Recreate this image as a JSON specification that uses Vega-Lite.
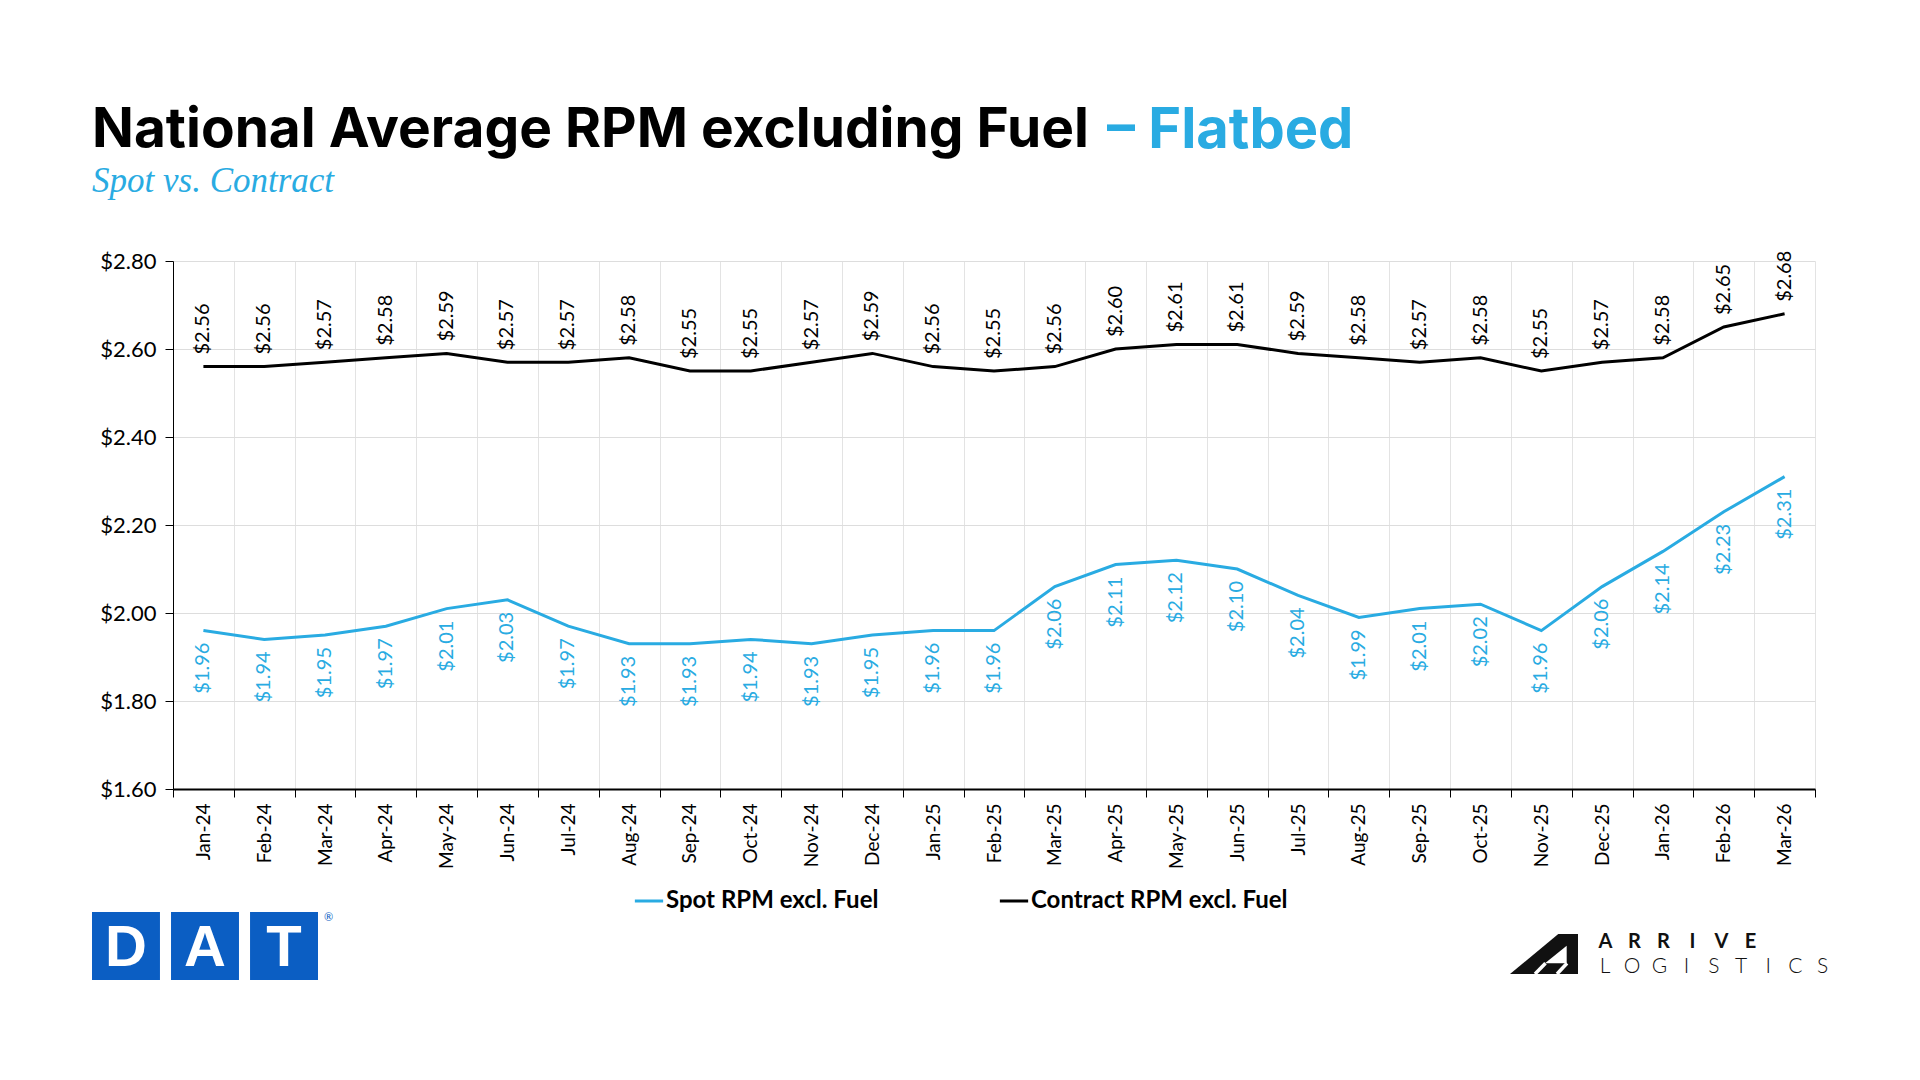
{
  "$schema": "https://vega.github.io/schema/vega-lite/v6.json",
  "background": "white",
  "padding": {"left": 92, "top": 90, "right": 40, "bottom": 20},
  "config": {
    "view": {"stroke": null},
    "font": "Lato",
    "axis": {"labelFont": "Lato", "labelColor": "#000"}
  },
  "datasets": {
    "rpm": [
      {"month": "Jan-24", "series": "Spot RPM excl. Fuel", "rpm": 1.96},
      {"month": "Feb-24", "series": "Spot RPM excl. Fuel", "rpm": 1.94},
      {"month": "Mar-24", "series": "Spot RPM excl. Fuel", "rpm": 1.95},
      {"month": "Apr-24", "series": "Spot RPM excl. Fuel", "rpm": 1.97},
      {"month": "May-24", "series": "Spot RPM excl. Fuel", "rpm": 2.01},
      {"month": "Jun-24", "series": "Spot RPM excl. Fuel", "rpm": 2.03},
      {"month": "Jul-24", "series": "Spot RPM excl. Fuel", "rpm": 1.97},
      {"month": "Aug-24", "series": "Spot RPM excl. Fuel", "rpm": 1.93},
      {"month": "Sep-24", "series": "Spot RPM excl. Fuel", "rpm": 1.93},
      {"month": "Oct-24", "series": "Spot RPM excl. Fuel", "rpm": 1.94},
      {"month": "Nov-24", "series": "Spot RPM excl. Fuel", "rpm": 1.93},
      {"month": "Dec-24", "series": "Spot RPM excl. Fuel", "rpm": 1.95},
      {"month": "Jan-25", "series": "Spot RPM excl. Fuel", "rpm": 1.96},
      {"month": "Feb-25", "series": "Spot RPM excl. Fuel", "rpm": 1.96},
      {"month": "Mar-25", "series": "Spot RPM excl. Fuel", "rpm": 2.06},
      {"month": "Apr-25", "series": "Spot RPM excl. Fuel", "rpm": 2.11},
      {"month": "May-25", "series": "Spot RPM excl. Fuel", "rpm": 2.12},
      {"month": "Jun-25", "series": "Spot RPM excl. Fuel", "rpm": 2.10},
      {"month": "Jul-25", "series": "Spot RPM excl. Fuel", "rpm": 2.04},
      {"month": "Aug-25", "series": "Spot RPM excl. Fuel", "rpm": 1.99},
      {"month": "Sep-25", "series": "Spot RPM excl. Fuel", "rpm": 2.01},
      {"month": "Oct-25", "series": "Spot RPM excl. Fuel", "rpm": 2.02},
      {"month": "Nov-25", "series": "Spot RPM excl. Fuel", "rpm": 1.96},
      {"month": "Dec-25", "series": "Spot RPM excl. Fuel", "rpm": 2.06},
      {"month": "Jan-26", "series": "Spot RPM excl. Fuel", "rpm": 2.14},
      {"month": "Feb-26", "series": "Spot RPM excl. Fuel", "rpm": 2.23},
      {"month": "Mar-26", "series": "Spot RPM excl. Fuel", "rpm": 2.31},
      {"month": "Jan-24", "series": "Contract RPM excl. Fuel", "rpm": 2.56},
      {"month": "Feb-24", "series": "Contract RPM excl. Fuel", "rpm": 2.56},
      {"month": "Mar-24", "series": "Contract RPM excl. Fuel", "rpm": 2.57},
      {"month": "Apr-24", "series": "Contract RPM excl. Fuel", "rpm": 2.58},
      {"month": "May-24", "series": "Contract RPM excl. Fuel", "rpm": 2.59},
      {"month": "Jun-24", "series": "Contract RPM excl. Fuel", "rpm": 2.57},
      {"month": "Jul-24", "series": "Contract RPM excl. Fuel", "rpm": 2.57},
      {"month": "Aug-24", "series": "Contract RPM excl. Fuel", "rpm": 2.58},
      {"month": "Sep-24", "series": "Contract RPM excl. Fuel", "rpm": 2.55},
      {"month": "Oct-24", "series": "Contract RPM excl. Fuel", "rpm": 2.55},
      {"month": "Nov-24", "series": "Contract RPM excl. Fuel", "rpm": 2.57},
      {"month": "Dec-24", "series": "Contract RPM excl. Fuel", "rpm": 2.59},
      {"month": "Jan-25", "series": "Contract RPM excl. Fuel", "rpm": 2.56},
      {"month": "Feb-25", "series": "Contract RPM excl. Fuel", "rpm": 2.55},
      {"month": "Mar-25", "series": "Contract RPM excl. Fuel", "rpm": 2.56},
      {"month": "Apr-25", "series": "Contract RPM excl. Fuel", "rpm": 2.60},
      {"month": "May-25", "series": "Contract RPM excl. Fuel", "rpm": 2.61},
      {"month": "Jun-25", "series": "Contract RPM excl. Fuel", "rpm": 2.61},
      {"month": "Jul-25", "series": "Contract RPM excl. Fuel", "rpm": 2.59},
      {"month": "Aug-25", "series": "Contract RPM excl. Fuel", "rpm": 2.58},
      {"month": "Sep-25", "series": "Contract RPM excl. Fuel", "rpm": 2.57},
      {"month": "Oct-25", "series": "Contract RPM excl. Fuel", "rpm": 2.58},
      {"month": "Nov-25", "series": "Contract RPM excl. Fuel", "rpm": 2.55},
      {"month": "Dec-25", "series": "Contract RPM excl. Fuel", "rpm": 2.57},
      {"month": "Jan-26", "series": "Contract RPM excl. Fuel", "rpm": 2.58},
      {"month": "Feb-26", "series": "Contract RPM excl. Fuel", "rpm": 2.65},
      {"month": "Mar-26", "series": "Contract RPM excl. Fuel", "rpm": 2.68}
    ],
    "datLogo": [{"letter": "D"}, {"letter": "A"}, {"letter": "T"}],
    "iconOuter": [{"u": 0, "v": 0}, {"u": 48.3, "v": 40}, {"u": 68, "v": 40}],
    "iconInner": [{"u": 35, "v": 10.7}, {"u": 56.7, "v": 28.3}],
    "iconGaps": [{"u": 25, "v": 0, "u2": 35.5, "v2": 10.7}, {"u": 47, "v": 0, "u2": 57, "v2": 10.7}],
    "arrive": [
      {"i": 0, "ch": "A", "row": "ARRIVE"}, {"i": 1, "ch": "R", "row": "ARRIVE"},
      {"i": 2, "ch": "R", "row": "ARRIVE"}, {"i": 3, "ch": "I", "row": "ARRIVE"},
      {"i": 4, "ch": "V", "row": "ARRIVE"}, {"i": 5, "ch": "E", "row": "ARRIVE"}
    ],
    "logistics": [
      {"i": 0, "ch": "L", "row": "LOGISTICS"}, {"i": 1, "ch": "O", "row": "LOGISTICS"},
      {"i": 2, "ch": "G", "row": "LOGISTICS"}, {"i": 3, "ch": "I", "row": "LOGISTICS"},
      {"i": 4, "ch": "S", "row": "LOGISTICS"}, {"i": 5, "ch": "T", "row": "LOGISTICS"},
      {"i": 6, "ch": "I", "row": "LOGISTICS"}, {"i": 7, "ch": "C", "row": "LOGISTICS"},
      {"i": 8, "ch": "S", "row": "LOGISTICS"}
    ]
  },
  "vconcat": [
    {
      "hconcat": [
        {
          "width": 1,
          "height": 1,
          "data": {"values": [{}]},
          "mark": {"type": "text", "text": ""},
          "title": {
            "text": "National Average RPM excluding Fuel",
            "subtitle": "Spot vs. Contract",
            "orient": "bottom",
            "anchor": "start",
            "frame": "group",
            "offset": 2,
            "font": "Inter",
            "fontSize": 55,
            "fontWeight": "bold",
            "color": "#000000",
            "subtitleFont": "Liberation Serif",
            "subtitleFontStyle": "italic",
            "subtitleFontSize": 35,
            "subtitleColor": "#29abe2",
            "subtitlePadding": 5
          }
        },
        {
          "width": 1,
          "height": 1,
          "data": {"values": [{}]},
          "mark": {"type": "text", "text": ""},
          "title": {
            "text": "– Flatbed",
            "orient": "bottom",
            "anchor": "start",
            "frame": "group",
            "offset": 2,
            "font": "Inter",
            "fontSize": 56,
            "fontWeight": "bold",
            "color": "#29abe2"
          }
        }
      ],
      "spacing": 18
    },
    {
      "vconcat": [
        {
          "hconcat": [
            {
              "width": 1,
              "height": 1,
              "data": {"values": [{}]},
              "mark": {"type": "text", "text": ""}
            },
            {
              "width": 1642,
              "height": 528,
              "data": {"name": "rpm"},
              "encoding": {
                "x": {
                  "field": "month",
                  "type": "ordinal",
                  "sort": null,
                  "bandPosition": 0.5,
                  "scale": {"type": "band", "paddingInner": 0, "paddingOuter": 0},
                  "axis": {
                    "title": null,
                    "labelAngle": -90,
                    "labelFontSize": 19,
                    "labelPadding": 6,
                    "tickBand": "extent",
                    "grid": true,
                    "gridColor": "#e3e3e3",
                    "domainColor": "#000000",
                    "domainWidth": 2,
                    "tickColor": "#000000",
                    "tickSize": 8
                  }
                },
                "y": {
                  "field": "rpm",
                  "type": "quantitative",
                  "scale": {"domain": [1.6, 2.8]},
                  "axis": {
                    "title": null,
                    "values": [1.6, 1.8, 2.0, 2.2, 2.4, 2.6, 2.8],
                    "format": "$.2f",
                    "labelFontSize": 22,
                    "labelPadding": 9,
                    "minExtent": 80,
                    "grid": true,
                    "gridColor": "#dddddd",
                    "domainColor": "#000000",
                    "tickColor": "#000000",
                    "tickSize": 8
                  }
                }
              },
              "layer": [
                {
                  "mark": {"type": "line", "strokeWidth": 3},
                  "encoding": {
                    "color": {
                      "field": "series",
                      "type": "nominal",
                      "scale": {
                        "domain": ["Spot RPM excl. Fuel", "Contract RPM excl. Fuel"],
                        "range": ["#29abe2", "#000000"]
                      },
                      "legend": {
                        "title": null,
                        "orient": "none",
                        "legendX": 541,
                        "legendY": 789,
                        "direction": "horizontal",
                        "padding": 0,
                        "symbolType": "stroke",
                        "symbolSize": 800,
                        "symbolStrokeWidth": 3,
                        "labelFont": "Lato",
                        "labelFontWeight": "bold",
                        "labelFontSize": 24,
                        "labelColor": "#000000",
                        "labelOffset": 1,
                        "labelLimit": 400,
                        "columnPadding": 114
                      }
                    }
                  }
                },
                {
                  "transform": [{"filter": "datum.series === 'Contract RPM excl. Fuel'"}],
                  "mark": {"type": "text", "angle": 270, "align": "left", "baseline": "middle", "dx": 12, "font": "Lato", "fontSize": 20, "color": "#000000"},
                  "encoding": {"text": {"field": "rpm", "type": "quantitative", "format": "$.2f"}}
                },
                {
                  "transform": [{"filter": "datum.series === 'Spot RPM excl. Fuel'"}],
                  "mark": {"type": "text", "angle": 270, "align": "right", "baseline": "middle", "dx": -12, "font": "Lato", "fontSize": 20, "color": "#29abe2"},
                  "encoding": {"text": {"field": "rpm", "type": "quantitative", "format": "$.2f"}}
                }
              ]
            }
          ],
          "spacing": 0
        },
        {
          "hconcat": [
            {
              "width": 226,
              "height": 68,
              "data": {"name": "datLogo"},
              "encoding": {
                "x": {"field": "letter", "type": "nominal", "sort": null, "axis": null, "scale": {"type": "band", "paddingInner": 0.14, "paddingOuter": 0}}
              },
              "layer": [
                {"mark": {"type": "rect", "color": "#0b5ec3"}},
                {
                  "mark": {"type": "text", "color": "#ffffff", "font": "Liberation Sans", "fontWeight": "bold", "fontSize": 58, "baseline": "middle", "dy": 3},
                  "encoding": {"text": {"field": "letter"}}
                },
                {
                  "transform": [{"filter": "datum.letter === 'T'"}],
                  "mark": {"type": "text", "text": "®", "color": "#0b5ec3", "fontSize": 11, "align": "left", "baseline": "top", "dx": 40, "dy": -34}
                }
              ]
            },
            {
              "hconcat": [
                {
                  "width": 68,
                  "height": 68,
                  "encoding": {
                    "x": {"field": "u", "type": "quantitative", "axis": null, "scale": {"domain": [0, 68]}},
                    "y": {"field": "v", "type": "quantitative", "axis": null, "scale": {"domain": [-6, 62]}}
                  },
                  "layer": [
                    {
                      "data": {"name": "iconOuter"},
                      "mark": {"type": "area", "color": "#111111"},
                      "encoding": {"y2": {"datum": 0}}
                    },
                    {
                      "data": {"name": "iconInner"},
                      "mark": {"type": "area", "color": "#ffffff"},
                      "encoding": {"y2": {"datum": 10.7}}
                    },
                    {
                      "data": {"name": "iconGaps"},
                      "mark": {"type": "rule", "color": "#ffffff", "strokeWidth": 3.5},
                      "encoding": {"x2": {"field": "u2"}, "y2": {"field": "v2"}}
                    }
                  ]
                },
                {
                  "width": 232,
                  "height": 68,
                  "encoding": {
                    "y": {"field": "row", "type": "nominal", "axis": null, "scale": {"type": "point", "domain": ["ARRIVE", "LOGISTICS"], "padding": 0.86, "align": 0.698}}
                  },
                  "layer": [
                    {
                      "data": {"name": "arrive"},
                      "mark": {"type": "text", "font": "Lato", "fontWeight": "bold", "fontSize": 20, "color": "#111111", "baseline": "middle"},
                      "encoding": {
                        "x": {"field": "i", "type": "ordinal", "axis": null, "scale": {"type": "band", "paddingInner": 0, "paddingOuter": 1, "align": 0}},
                        "text": {"field": "ch"}
                      }
                    },
                    {
                      "data": {"name": "logistics"},
                      "mark": {"type": "text", "font": "Lato", "fontWeight": 300, "fontSize": 21, "color": "#111111", "baseline": "middle"},
                      "encoding": {
                        "x": {"field": "i", "type": "ordinal", "axis": null, "scale": {"type": "point", "padding": 0.265, "align": 0.97}},
                        "text": {"field": "ch"}
                      }
                    }
                  ],
                  "resolve": {"scale": {"x": "independent"}}
                }
              ],
              "spacing": 13
            }
          ],
          "spacing": 1176,
          "align": "none"
        }
      ],
      "spacing": 43,
      "align": "none"
    }
  ],
  "spacing": 51,
  "align": "none"
}
